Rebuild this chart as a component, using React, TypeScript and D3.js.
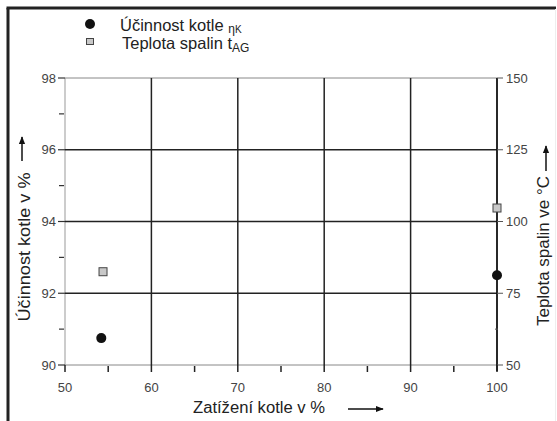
import React from "react";
import * as d3 from "d3";

const loadValues = [54.2, 100];
const efficiencyValues = [90.75, 92.5];
const tempLoadValues = [54.4, 100];
const tempValues = [82.5, 104.7];
const xTicks = [50, 60, 70, 80, 90, 100];
const xMinorTicks = [55, 65, 75, 85, 95];
const leftTicks = [90, 92, 94, 96, 98];
const leftMinorTicks = [91, 93, 95, 97];
const rightTicks = [50, 75, 100, 125, 150];
const rightMinorTicks = [62.5];

const W = 557;
const H = 421;
const x = d3.scaleLinear().domain([50, 100]).range([65, 497]);
const yL = d3.scaleLinear().domain([90, 98]).range([365, 78]);
const yR = d3.scaleLinear().domain([50, 150]).range([365, 78]);

const font = "'Liberation Sans', Arial, Helvetica, sans-serif";
const tickColor = "#444";

export default function App() {
  const [x0, x1] = x.range();
  const [y0, y1] = yL.range();
  return (
    <svg width={W} height={H} style={{ position: "absolute", left: 0, top: 0, background: "#fff" }} fontFamily={font}>
      <defs>
        <marker id="ah" viewBox="0 0 10 10" refX="9" refY="5" markerWidth="8" markerHeight="8" markerUnits="userSpaceOnUse" orient="auto">
          <path d="M0,1 L10,5 L0,9 z" fill="#111" />
        </marker>
      </defs>
      {/* frame */}
      <line x1={8} y1={8} x2={8} y2={H} stroke="#222" strokeWidth={3} />
      <line x1={6.5} y1={8} x2={556} y2={8} stroke="#222" strokeWidth={3} />
      <line x1={555.5} y1={9} x2={555.5} y2={H} stroke="#eee" strokeWidth={1} />

      {/* plot box thin lines */}
      <line x1={x0} y1={y1} x2={x1} y2={y1} stroke="#888" strokeWidth={1} />
      <line x1={x0} y1={y0} x2={x1} y2={y0} stroke="#888" strokeWidth={1} />
      <line x1={x0} y1={y0} x2={x0} y2={y1} stroke="#999" strokeWidth={1} />

      {/* horizontal grid */}
      {leftTicks.filter((t) => t !== 90 && t !== 98).map((t) => (
        <line key={"hg" + t} x1={x0} x2={x1} y1={yL(t)} y2={yL(t)} stroke="#222" strokeWidth={1.3} />
      ))}
      {/* vertical grid */}
      {xTicks.filter((t) => t !== 50 && t !== 100).map((t) => (
        <line key={"vg" + t} x1={x(t)} x2={x(t)} y1={y1} y2={y0} stroke="#222" strokeWidth={1.5} />
      ))}
      {/* right axis line */}
      <line x1={x1} x2={x1} y1={y1} y2={y0 + 6} stroke="#111" strokeWidth={1.8} />

      {/* left ticks */}
      {leftTicks.map((t) => (
        <g key={"lt" + t}>
          <line x1={x0 - 7} x2={x0} y1={yL(t)} y2={yL(t)} stroke="#333" strokeWidth={1.2} />
          <text x={x0 - 9} y={yL(t)} dy="0.35em" textAnchor="end" fontSize={13} fill={tickColor}>{t}</text>
        </g>
      ))}
      {leftMinorTicks.map((t) => (
        <line key={"lm" + t} x1={x0 - 6} x2={x0 - 1} y1={yL(t)} y2={yL(t)} stroke="#333" strokeWidth={1.2} />
      ))}
      {/* right ticks */}
      {rightTicks.map((t) => (
        <g key={"rt" + t}>
          <line x1={x1} x2={x1 + 6} y1={yR(t)} y2={yR(t)} stroke="#555" strokeWidth={1} />
          <text x={x1 + 9} y={yR(t)} dy="0.35em" textAnchor="start" fontSize={13} fill={tickColor}>{t}</text>
        </g>
      ))}
      {rightMinorTicks.map((t) => (
        <line key={"rm" + t} x1={x1 - 2} x2={x1 + 1} y1={yR(t)} y2={yR(t)} stroke="#555" strokeWidth={1} />
      ))}
      {/* bottom ticks */}
      {xTicks.map((t) => (
        <g key={"bt" + t}>
          <line x1={x(t)} x2={x(t)} y1={y0} y2={y0 + 7} stroke="#222" strokeWidth={1.5} />
          <text x={x(t)} y={y0 + 27} textAnchor="middle" fontSize={13} fill={tickColor}>{t}</text>
        </g>
      ))}
      {xMinorTicks.map((t) => (
        <line key={"bm" + t} x1={x(t)} x2={x(t)} y1={y0 + 1} y2={y0 + 7} stroke="#222" strokeWidth={1.5} />
      ))}

      {/* data */}
      {loadValues.map((v, i) => (
        <circle key={"c" + i} cx={x(v)} cy={yL(efficiencyValues[i])} r={5} fill="#111" />
      ))}
      {tempLoadValues.map((v, i) => (
        <rect key={"s" + i} x={x(v) - 4} y={yR(tempValues[i]) - 4} width={8} height={8} fill="#c8c8c8" stroke="#444" strokeWidth={1} />
      ))}

      {/* axis titles */}
      <text x={193} y={413} fontSize={16} fill="#222" textLength={132} lengthAdjust="spacingAndGlyphs">Zatížení kotle v %</text>
      <line x1={348} x2={383} y1={409} y2={409} stroke="#111" strokeWidth={1.5} markerEnd="url(#ah)" />

      <text transform="translate(30,247) rotate(-90)" textAnchor="middle" fontSize={16.5} fill="#222" textLength={149} lengthAdjust="spacingAndGlyphs">Účinnost kotle v %</text>
      <line x1={22} x2={22} y1={161} y2={137} stroke="#111" strokeWidth={1.5} markerEnd="url(#ah)" />

      <text transform="translate(549,251) rotate(-90)" textAnchor="middle" fontSize={16.5} fill="#222" textLength={150} lengthAdjust="spacingAndGlyphs">Teplota spalin ve °C</text>
      <line x1={546} x2={546} y1={171} y2={146} stroke="#111" strokeWidth={1.5} markerEnd="url(#ah)" />

      {/* legend */}
      <circle cx={90} cy={24} r={5} fill="#111" />
      <text x={120} y={31} fontSize={16.5} fill="#222">
        Účinnost kotle <tspan fontSize={12} dy={2}>η</tspan><tspan fontSize={10} dy={0}>K</tspan>
      </text>
      <rect x={86.5} y={38.5} width={7} height={6} fill="#c8c8c8" stroke="#444" strokeWidth={1} />
      <text x={122} y={49} fontSize={16.5} fill="#222">
        Teplota spalin t<tspan fontSize={12} dy={3}>AG</tspan>
      </text>
    </svg>
  );
}
